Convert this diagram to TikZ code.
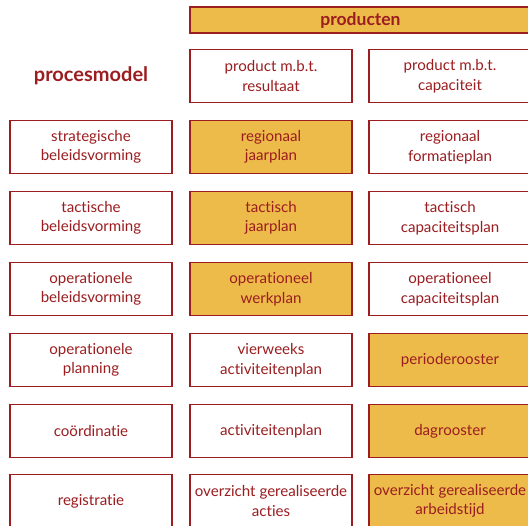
\documentclass[tikz,border=0pt]{standalone}
\usepackage{fontspec}
\setmainfont[Ligatures=NoCommon]{Lato}
\usetikzlibrary{positioning}
\definecolor{dred}{HTML}{9B1D20}
\definecolor{gold}{HTML}{EDBB4A}
\tikzset{box/.style={draw=dred,line width=1.6pt,text=dred,fill=white,align=center,
    minimum width=162pt,minimum height=53pt,inner sep=0pt,
    font=\fontsize{15.1}{19.5}\selectfont}}
\tikzset{fbox/.style={box,fill=gold}}

\begin{document}
\begin{tikzpicture}[x=1pt,y=-1pt]
    \useasboundingbox (0,0) rectangle (528,526);
    \node[fbox,minimum width=341pt,minimum height=26pt,font=\fontsize{17.5}{19}\selectfont\bfseries] (Top) at (360.5,20) {producten};
    \node[text=dred,font=\fontsize{20}{22}\selectfont\bfseries] (Title) at (91,76) {procesmodel};
    \node[box] (R0) at (271,76) {product m.b.t.\\resultaat};
    \node[box] (C0) at (450,76) {product m.b.t.\\capaciteit};
    \node[box] (P1) at (91,147) {strategische\\beleidsvorming};
    \node[fbox] (R1) at (271,147) {regionaal\\jaarplan};
    \node[box] (C1) at (450,147) {regionaal\\formatieplan};
    \node[box] (P2) at (91,218) {tactische\\beleidsvorming};
    \node[fbox] (R2) at (271,218) {tactisch\\jaarplan};
    \node[box] (C2) at (450,218) {tactisch\\capaciteitsplan};
    \node[box] (P3) at (91,289) {operationele\\beleidsvorming};
    \node[fbox] (R3) at (271,289) {operationeel\\werkplan};
    \node[box] (C3) at (450,289) {operationeel\\capaciteitsplan};
    \node[box] (P4) at (91,360) {operationele\\planning};
    \node[box] (R4) at (271,360) {vierweeks\\activiteitenplan};
    \node[fbox] (C4) at (450,360) {perioderooster};
    \node[box] (P5) at (91,431) {coördinatie};
    \node[box] (R5) at (271,431) {activiteitenplan};
    \node[fbox] (C5) at (450,431) {dagrooster};
    \node[box] (P6) at (91,501) {registratie};
    \node[box] (R6) at (271,501) {overzicht gerealiseerde\\acties};
    \node[fbox] (C6) at (450,501) {overzicht gerealiseerde\\arbeidstijd};
\end{tikzpicture}
\end{document}
